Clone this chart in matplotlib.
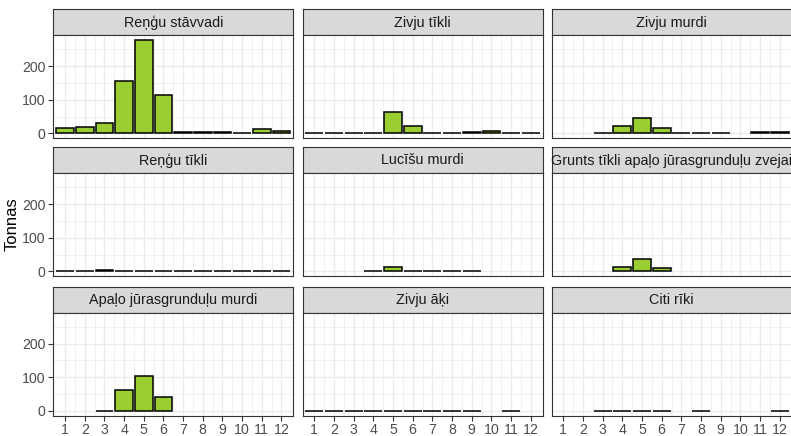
import numpy as np
import matplotlib
matplotlib.use("Agg")
import matplotlib.pyplot as plt
from matplotlib.ticker import FixedLocator

plt.rcParams['font.family'] = ['Liberation Sans', 'DejaVu Sans']

months = list(range(1, 13))
gears = ["Reņģu stāvvadi", "Zivju tīkli", "Zivju murdi",
         "Reņģu tīkli", "Lucīšu murdi", "Grunts tīkli apaļo jūrasgrunduļu zvejai",
         "Apaļo jūrasgrunduļu murdi", "Zivju āķi", "Citi rīki"]

# catch in tonnes per month, None = no record
rengu_stavvadi = [15, 18, 30, 155, 277, 115, 3, 3, 3, 1, 12, 8]
zivju_tikli = [0.5, 0.5, 1.5, 0.5, 63, 22, 1, 1, 4, 8, 2, 0.5]
zivju_murdi = [None, None, 0.5, 22, 45, 15, 0.5, 0.5, 0.5, None, 5, 3]
rengu_tikli = [1, 1, 4, 2, 1, 2, 1, 1, 1, 1, 1, 1]
lucisu_murdi = [None, None, None, 0.5, 12, 2, 0.5, 0.5, 0.5, None, None, None]
grunts_tikli = [None, None, None, 12, 37, 10, None, None, None, None, None, None]
apalo_murdi = [None, None, 0.5, 62, 105, 40, None, None, None, None, None, None]
zivju_aki = [0.3, 0.3, 0.3, 0.3, 0.3, 0.3, 0.3, 0.3, 0.3, None, 0.3, None]
citi_riki = [None, None, 0.5, 0.5, 0.5, 0.5, None, 0.5, None, None, None, 0.5]

values = [rengu_stavvadi, zivju_tikli, zivju_murdi,
          rengu_tikli, lucisu_murdi, grunts_tikli,
          apalo_murdi, zivju_aki, citi_riki]

W, H = 791, 436
fig = plt.figure(figsize=(W / 100, H / 100), dpi=100)

col_left = [53.3, 302.5, 551.5]
col_w = 240
row_top = [9.5, 147.5, 287]
strip_h = 26
panel_h = 102.5
ymax = max(rengu_stavvadi)
ylim = (-0.05 * ymax, ymax * 1.05)

def px(l, t, w, h):
    return [l / W, 1 - (t + h) / H, w / W, h / H]

for i, (name, vals) in enumerate(zip(gears, values)):
    r, c = divmod(i, 3)
    # strip
    sax = fig.add_axes(px(col_left[c], row_top[r], col_w, strip_h))
    sax.set_facecolor('#D9D9D9')
    sax.set_xticks([]); sax.set_yticks([])
    for s in sax.spines.values():
        s.set_color('#333333'); s.set_linewidth(0.8)
    sax.text(0.5, 0.5, name, ha='center', va='center', fontsize=10.4,
             color='#1A1A1A', transform=sax.transAxes)

    ax = fig.add_axes(px(col_left[c], row_top[r] + strip_h, col_w, panel_h))
    m = [mo for mo, v in zip(months, vals) if v is not None]
    v = [v for v in vals if v is not None]
    ax.bar(m, v, width=0.9, color='#9ACD32', edgecolor='black', linewidth=1.1, zorder=3)
    ax.set_xlim(0.4, 12.6)
    ax.set_ylim(*ylim)
    ax.xaxis.set_major_locator(FixedLocator(months))
    ax.xaxis.set_minor_locator(FixedLocator([x + 0.5 for x in range(1, 12)]))
    ax.yaxis.set_major_locator(FixedLocator([0, 100, 200]))
    ax.yaxis.set_minor_locator(FixedLocator([50, 150, 250]))
    ax.grid(which='major', color='#EBEBEB', linewidth=1.0, zorder=0)
    ax.grid(which='minor', color='#EBEBEB', linewidth=0.5, zorder=0)
    ax.set_axisbelow(True)
    for s in ax.spines.values():
        s.set_color('#333333'); s.set_linewidth(0.8)
    ax.tick_params(which='minor', length=0)
    ax.tick_params(which='major', length=3.5, width=0.8, color='#333333',
                   labelsize=10.2, labelcolor='#4D4D4D', pad=2)
    if c != 0:
        ax.tick_params(axis='y', left=False, labelleft=False)
    if r != 2:
        ax.tick_params(axis='x', bottom=False, labelbottom=False)

fig.text(12 / W, 1 - 224 / H, "Tonnas", rotation=90, ha='center', va='center',
         fontsize=12, color='black')

fig.savefig("out.png", dpi=100)
